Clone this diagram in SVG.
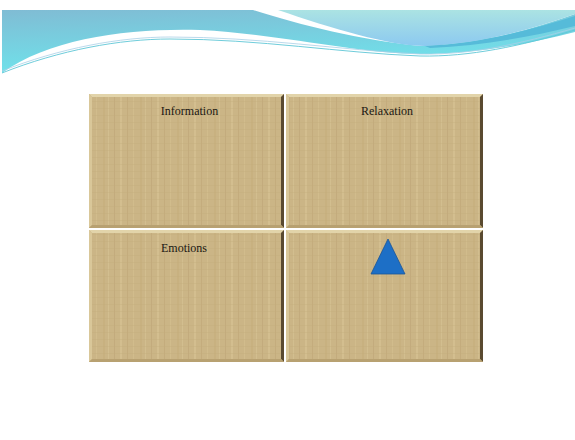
<svg xmlns="http://www.w3.org/2000/svg" width="575" height="440" viewBox="0 0 575 440">
<style>
.face{fill:url(#tex)}
.bt{fill:#e2d4aa}
.bl{fill:#d9c799}
.br{fill:#5a4a30}
.bb{fill:#b8a171}
.lbl{font-family:"Liberation Serif","DejaVu Serif",serif;font-size:12px;fill:#1a1712;text-anchor:middle}
</style>
<defs>
<linearGradient id="gA" x1="0" y1="0" x2="0.3" y2="1">
<stop offset="0" stop-color="#80bcd4"/>
<stop offset="1" stop-color="#6ee4ec"/>
</linearGradient>
<linearGradient id="gB" x1="0" y1="0" x2="0" y2="1">
<stop offset="0" stop-color="#abe3e3"/>
<stop offset="1" stop-color="#8cc9f0"/>
</linearGradient>
<pattern id="tex" patternUnits="userSpaceOnUse" width="37" height="7">
<rect width="37" height="7" fill="#cbb586"/>
<rect x="3" width="1" height="7" fill="#bba273" opacity="0.5"/>
<rect x="9" width="2" height="7" fill="#d8c594" opacity="0.6"/>
<rect x="16" width="1" height="7" fill="#bda474" opacity="0.5"/>
<rect x="22" width="1" height="7" fill="#d6c290" opacity="0.6"/>
<rect x="29" width="2" height="7" fill="#c2aa78" opacity="0.4"/>
<rect x="34" width="1" height="7" fill="#dac797" opacity="0.5"/>
<rect y="3" width="37" height="1" fill="#c2ab7b" opacity="0.35"/>
</pattern>
</defs>
<rect width="575" height="440" fill="#ffffff"/>
<g id="banner">
<path d="M2,10 L253,10 C300,25 360,40 420,46 C480,44 530,30 575,14 L575,32 C520,46 470,54 420,54 C360,54 280,34 200,30 C130,28 50,38 2,73 Z" fill="url(#gA)"/>
<path d="M278,10 L575,10 L575,14 C530,30 480,44 425,46 C390,46 330,28 278,10 Z" fill="url(#gB)"/>
<path d="M425,46 C480,44 530,30 575,16 L575,26 C530,37 480,46 430,48 Z" fill="#56bbd9"/>
<path d="M2,73 C60,50 120,39 170,39 C260,39 340,53 420,56 C470,57 520,46 575,30" fill="none" stroke="#5fc6d6" stroke-width="0.9"/>
<path d="M2,71 C60,48 120,37 170,37 C260,37 340,50 420,54 C470,55 520,44 575,28" fill="none" stroke="#a9cfe6" stroke-width="0.8"/>
</g>
<g id="information">
<rect class="face" x="89" y="94" width="195" height="134"/>
<polygon class="bt" points="89,94 284,94 281,97 92,97"/>
<polygon class="bl" points="89,94 92,97 92,225 89,228"/>
<polygon class="br" points="284,94 284,228 281,225 281,97"/>
<polygon class="bb" points="89,228 92,225 281,225 284,228"/>
<text class="lbl" x="189.5" y="115">Information</text>
</g>
<g id="relaxation">
<rect class="face" x="286" y="94" width="197" height="134"/>
<polygon class="bt" points="286,94 483,94 480,97 289,97"/>
<polygon class="bl" points="286,94 289,97 289,225 286,228"/>
<polygon class="br" points="483,94 483,228 480,225 480,97"/>
<polygon class="bb" points="286,228 289,225 480,225 483,228"/>
<text class="lbl" x="387" y="115">Relaxation</text>
</g>
<g id="emotions">
<rect class="face" x="89" y="230" width="195" height="132"/>
<polygon class="bt" points="89,230 284,230 281,233 92,233"/>
<polygon class="bl" points="89,230 92,233 92,359 89,362"/>
<polygon class="br" points="284,230 284,362 281,359 281,233"/>
<polygon class="bb" points="89,362 92,359 281,359 284,362"/>
<text class="lbl" x="184" y="252">Emotions</text>
</g>
<g id="triangle-panel">
<rect class="face" x="286" y="230" width="197" height="132"/>
<polygon class="bt" points="286,230 483,230 480,233 289,233"/>
<polygon class="bl" points="286,230 289,233 289,359 286,362"/>
<polygon class="br" points="483,230 483,362 480,359 480,233"/>
<polygon class="bb" points="286,362 289,359 480,359 483,362"/>
<polygon points="388,239 371,274 405,274" fill="#1d6fc6" stroke="#1a5698" stroke-width="0.8"/>
</g>
<g id="connectors"/>
</svg>
